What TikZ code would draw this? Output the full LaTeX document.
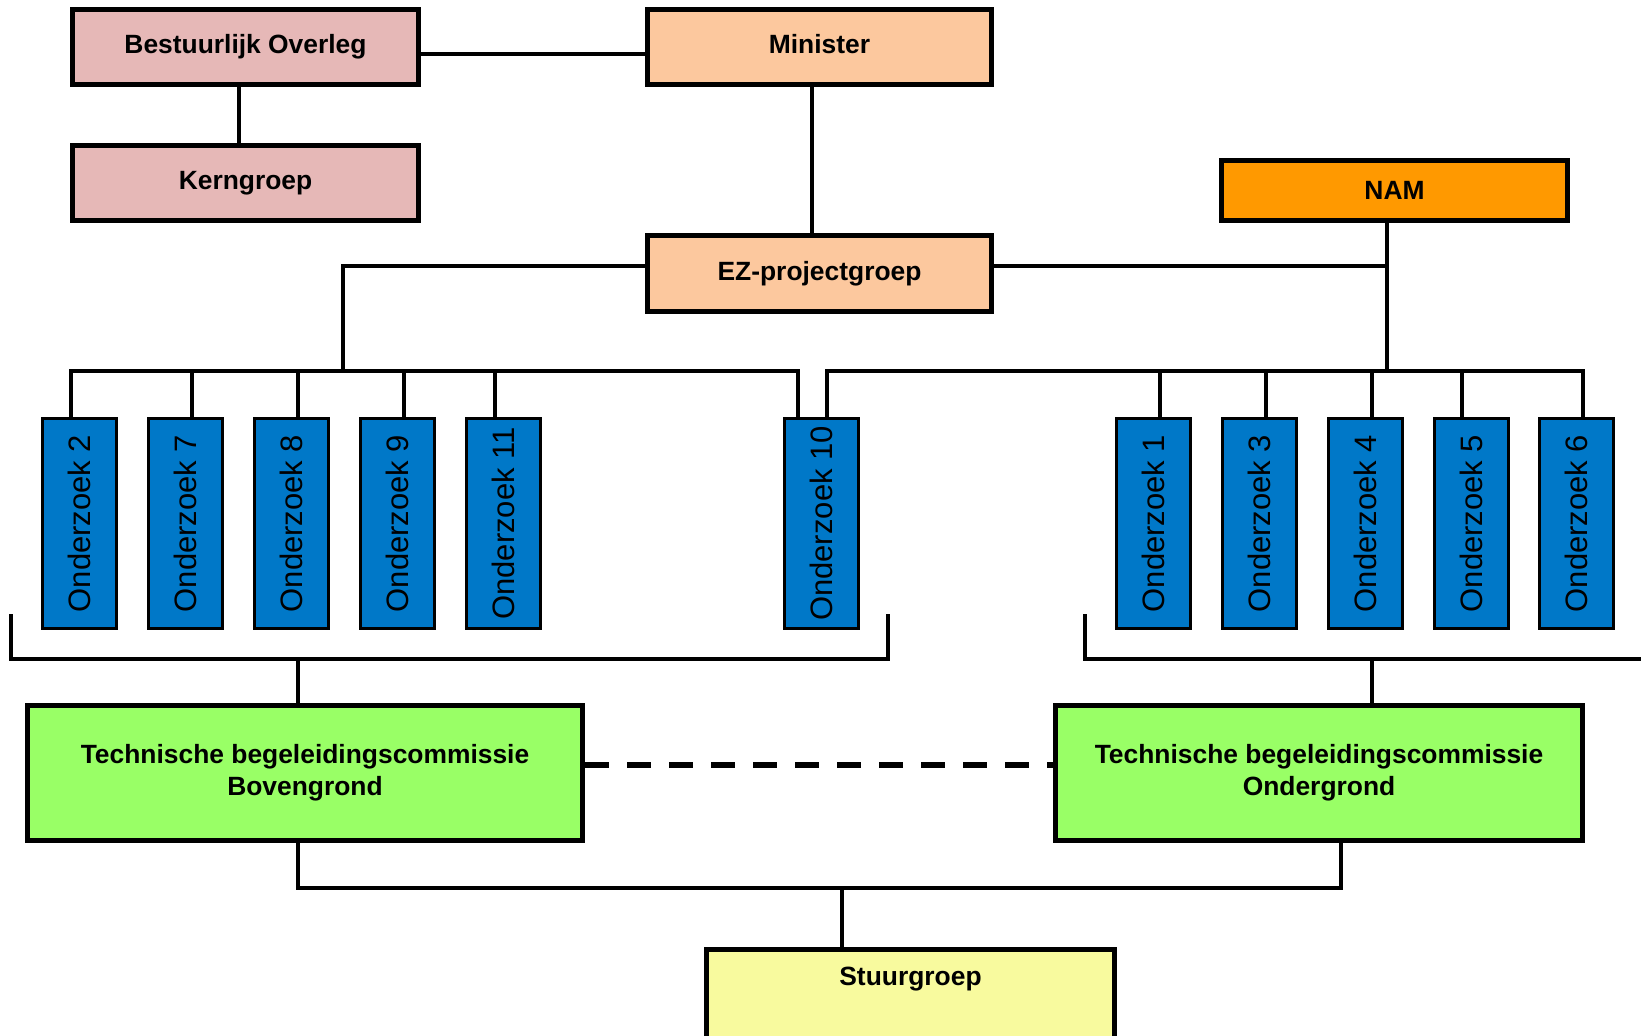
\documentclass[tikz,border=0pt]{standalone}
\usepackage{fontspec}
\setmainfont{Liberation Sans}
\usepackage{graphicx}
\usetikzlibrary{calc}
\definecolor{bopink}{HTML}{E6B8B7}
\definecolor{ezpeach}{HTML}{FCC89E}
\definecolor{namorange}{HTML}{FF9900}
\definecolor{onzblue}{HTML}{0078C8}
\definecolor{tbcgreen}{HTML}{99FF66}
\definecolor{stuuryellow}{HTML}{F8FA9E}
\begin{document}
\begin{tikzpicture}[x=0.5pt,y=-0.5pt,
font=\fontsize{13.2}{16}\selectfont\bfseries,
b/.style={
draw,
line width=2.5pt,
minimum width=173pt,
minimum height=37.5pt,
inner sep=0pt,
align=center},
sb/.style={b,text height=9.8pt,text depth=2.8pt},
ob/.style={
draw,
line width=1.5pt,
fill=onzblue,
minimum width=37pt,
minimum height=105pt,
inner sep=0pt,
font=\fontsize{15.5}{18}\selectfont\mdseries},
ln/.style={line width=2pt},
]
\useasboundingbox (0,0) rectangle (1641,1036);
\clip (0,0) rectangle (1641,1036);
%Top
\node[sb,fill=bopink](bo)at(245.5,47){Bestuurlijk Overleg};
\node[sb,fill=ezpeach,minimum width=172pt](min)at(819.5,47){Minister};
\node[sb,fill=bopink](kern)at(245.5,183){Kerngroep};
\node[b,fill=namorange,minimum height=30pt](nam)at(1394.5,190.5){NAM};
\node[sb,fill=ezpeach,minimum width=172pt,minimum height=38pt](ez)at(819.5,273.5){EZ-projectgroep};
\draw[ln]($(bo.east)+(0,7)$)--($(min.west)+(0,7)$);
\draw[ln]($(bo.south)+(-6.5,0)$)--($(kern.north)+(-6.5,0)$);
\draw[ln]($(min.south)+(-7.5,0)$)--($(ez.north)+(-7.5,0)$);
%Onderzoeken
\foreach \n/\x in {2/79,7/185,8/291,9/397,11/503,10/821,1/1153,3/1259,4/1365,5/1471,6/1576}
\node[ob](o\n)at(\x,523.5){\rotatebox{90}{Onderzoek \n}};
%%Bus left
\coordinate(busL)at(343,372);
\draw[ln]($(ez.west)+(0,-7.5)$)-|(busL);
\draw[ln]($(o2.north)+(-8.5,0)$)|-($(o10.north)+(-23,-46)$)--($(o10.north)+(-23,0)$);
\foreach \n/\d in {7/7,8/7,9/7,11/-8.5}
\draw[ln]($(o\n.north)+(\d,0)$)--++(0,-46);
%%Bus right
\coordinate(busR)at(1387,372);
\draw[ln]($(ez.east)+(0,-7.5)$)-|(busR);
\draw[ln](nam.south-|busR)--(busR);
\draw[ln]($(o10.north)+(6,0)$)|-($(o6.north)+(7,-46)$)--($(o6.north)+(7,0)$);
\foreach \n/\d in {1/7,3/7,4/6.5,5/-9}
\draw[ln]($(o\n.north)+(\d,0)$)--++(0,-46);
%Commissies
\node[b,fill=tbcgreen,minimum width=277.5pt,minimum height=67.5pt](tbcb)at(305,773){Technische begeleidingscommissie\\Bovengrond};
\node[b,fill=tbcgreen,minimum width=263.5pt,minimum height=67.5pt](tbco)at(1319,773){Technische begeleidingscommissie\\Ondergrond};
\draw[line width=3pt,dash pattern=on 12pt off 9pt]($(tbcb.east)+(0,-8)$)--($(tbco.west)+(0,-8)$);
%%Brackets
\draw[ln](10.5,614)|-(888,659)--(888,614);
\draw[ln](1085,614)|-(1700,659);
\draw[ln]($(tbcb.north)+(-7,0)$)--++(0,-46);
\draw[ln]($(tbco.north)+(53,0)$)--++(0,-46);
%Stuurgroep
\node[b,fill=stuuryellow,anchor=north,minimum width=204pt,inner ysep=8.6pt,text height=9.8pt,text depth=45pt](stuur)at(910.5,946.5){Stuurgroep};
\draw[ln]($(tbcb.south)+(-7,0)$)|-($(tbco.south)+(22,45)$)--($(tbco.south)+(22,0)$);
\draw[ln]($(stuur.north)+(-68.5,0)$)--++(0,-60.5);
\end{tikzpicture}
\end{document}
